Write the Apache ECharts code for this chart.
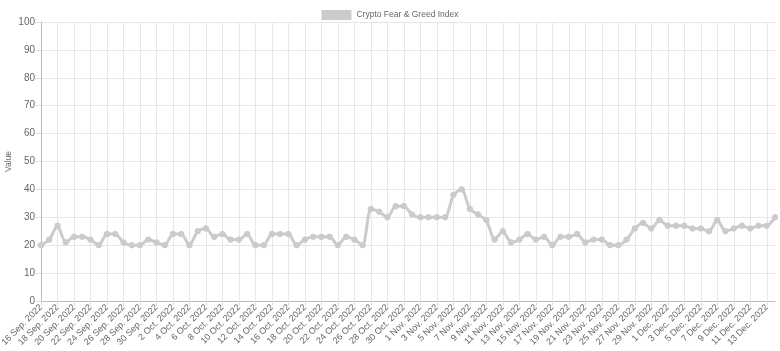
<!DOCTYPE html>
<html>
<head>
<meta charset="utf-8">
<script src="https://cdn.jsdelivr.net/npm/echarts@6/dist/echarts.min.js"></script>
<style>
html,body{margin:0;padding:0;background:#fff;}
#chart{width:780px;height:351px;}
</style>
</head>
<body>
<div id="chart"></div>
<script>
const dates = [
"16 Sep. 2022","17 Sep. 2022","18 Sep. 2022","19 Sep. 2022","20 Sep. 2022","21 Sep. 2022","22 Sep. 2022","23 Sep. 2022","24 Sep. 2022","25 Sep. 2022",
"26 Sep. 2022","27 Sep. 2022","28 Sep. 2022","29 Sep. 2022","30 Sep. 2022",
"1 Oct. 2022","2 Oct. 2022","3 Oct. 2022","4 Oct. 2022","5 Oct. 2022","6 Oct. 2022","7 Oct. 2022","8 Oct. 2022","9 Oct. 2022","10 Oct. 2022",
"11 Oct. 2022","12 Oct. 2022","13 Oct. 2022","14 Oct. 2022","15 Oct. 2022","16 Oct. 2022","17 Oct. 2022","18 Oct. 2022","19 Oct. 2022","20 Oct. 2022",
"21 Oct. 2022","22 Oct. 2022","23 Oct. 2022","24 Oct. 2022","25 Oct. 2022","26 Oct. 2022","27 Oct. 2022","28 Oct. 2022","29 Oct. 2022","30 Oct. 2022","31 Oct. 2022",
"1 Nov. 2022","2 Nov. 2022","3 Nov. 2022","4 Nov. 2022","5 Nov. 2022","6 Nov. 2022","7 Nov. 2022","8 Nov. 2022","9 Nov. 2022","10 Nov. 2022",
"11 Nov. 2022","12 Nov. 2022","13 Nov. 2022","14 Nov. 2022","15 Nov. 2022","16 Nov. 2022","17 Nov. 2022","18 Nov. 2022","19 Nov. 2022","20 Nov. 2022",
"21 Nov. 2022","22 Nov. 2022","23 Nov. 2022","24 Nov. 2022","25 Nov. 2022","26 Nov. 2022","27 Nov. 2022","28 Nov. 2022","29 Nov. 2022","30 Nov. 2022",
"1 Dec. 2022","2 Dec. 2022","3 Dec. 2022","4 Dec. 2022","5 Dec. 2022","6 Dec. 2022","7 Dec. 2022","8 Dec. 2022","9 Dec. 2022","10 Dec. 2022",
"11 Dec. 2022","12 Dec. 2022","13 Dec. 2022","14 Dec. 2022"
];
const fearGreed = [
20,22,27,21,23,23,22,20,24,24,
21,20,20,22,21,
20,24,24,20,25,26,23,24,22,22,
24,20,20,24,24,24,20,22,23,23,
23,20,23,22,20,33,32,30,34,34,31,
30,30,30,30,38,40,33,31,29,22,
25,21,22,24,22,23,20,23,23,24,
21,22,22,20,20,22,26,28,26,29,
27,27,27,26,26,25,29,25,26,27,
26,27,27,30
];
const yTicks = {min:0, max:100, step:10};
const seriesName = "Crypto Fear & Greed Index";

const chart = echarts.init(document.getElementById('chart'), null, {renderer:'canvas'});
const font = "'Liberation Sans', Arial, Helvetica, sans-serif";
chart.setOption({
  animation:false,
  backgroundColor:'#ffffff',
  textStyle:{fontFamily:font},
  legend:{
    top:5, left:'center',
    icon:'rect', itemWidth:30, itemHeight:10, itemGap:10,
    textStyle:{fontSize:8.5, color:'#666', fontFamily:font, padding:[0,0,0,0]},
    data:[{name:seriesName, itemStyle:{color:'#c9cbcf'}}]
  },
  grid:{left:41, right:5, top:22, bottom:50, containLabel:false, outerBoundsMode:'none'},
  xAxis:{
    type:'category', data:dates, boundaryGap:false,
    axisLine:{show:true, lineStyle:{color:'#bdbdbd', width:1}},
    axisTick:{show:true, interval:1, length:5, lineStyle:{color:'#e0e0e0'}},
    axisLabel:{interval:1, rotate:45, fontSize:9, color:'#666', fontFamily:font, margin:5},
    splitLine:{show:true, interval:1, lineStyle:{color:'#e6e6e6', width:1}}
  },
  yAxis:{
    type:'value', min:yTicks.min, max:yTicks.max, interval:yTicks.step,
    name:'Value', nameLocation:'middle', nameRotate:90, nameGap:28,
    nameMoveOverlap:false,
    nameTextStyle:{fontSize:8.5, color:'#666', fontFamily:font},
    axisLine:{show:true, lineStyle:{color:'#bdbdbd', width:1}},
    axisTick:{show:true, length:5, lineStyle:{color:'#e0e0e0'}},
    axisLabel:{fontSize:10, color:'#666', fontFamily:font, margin:6},
    splitLine:{show:true, lineStyle:{color:'#e6e6e6', width:1}}
  },
  series:[{
    name:seriesName, type:'line', data:fearGreed,
    smooth:0.25,
    symbol:'circle', symbolSize:5.5, showSymbol:true, showAllSymbol:true,
    lineStyle:{color:'#c9cbcf', width:3},
    itemStyle:{color:'#c9cbcf', borderColor:'#c9cbcf'}
  }]
});
</script>
</body>
</html>
